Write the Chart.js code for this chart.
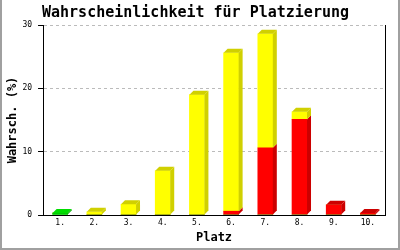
<!DOCTYPE html>
<html>
<head>
<meta charset="utf-8">
<script src="https://cdn.jsdelivr.net/npm/chart.js@4/dist/chart.umd.min.js"></script>
<style>
  body { margin: 0; background: #fff; }
</style>
</head>
<body>
<canvas id="chart" width="400" height="250"></canvas>
<script>
// Platz 1..10, Wahrscheinlichkeit in %
const labels = ['1.', '2.', '3.', '4.', '5.', '6.', '7.', '8.', '9.', '10.'];
const greenVals = [0.3, 0, 0, 0, 0, 0, 0, 0, 0, 0];
const redVals = [0, 0, 0, 0, 0, 0.6, 10.6, 15.1, 1.6, 0.3];
const yellowVals = [0, 0.5, 1.7, 7.0, 19.0, 25.0, 18.0, 1.2, 0, 0];
const yTicks = [0, 10, 20, 30];

const mono = 'DejaVu Sans Mono';

// side + top faces for the fake 3d look
const depth = 4;
const bars3d = {
    id: 'bars3d',
    afterDatasetsDraw(chart) {
        const ctx = chart.ctx;
        const zero = chart.scales.y.getPixelForValue(0);
        const tops = {};
        chart.data.datasets.forEach((ds, i) => {
            ds.data.forEach((v, j) => { if (v) tops[j] = i; });
        });
        ctx.save();
        chart.data.datasets.forEach((ds, i) => {
            const meta = chart.getDatasetMeta(i);
            meta.data.forEach((bar, j) => {
                if (!ds.data[j]) return;
                const p = bar.getProps(['x', 'y', 'base', 'width'], true);
                const l = p.x - p.width / 2, r = p.x + p.width / 2;
                const low = Math.abs(p.base - zero) < 0.5 ? p.base : p.base - depth;
                ctx.fillStyle = ds.shadeColor;
                ctx.beginPath();
                ctx.moveTo(r, p.y);
                ctx.lineTo(r + depth, p.y - depth);
                ctx.lineTo(r + depth, low);
                ctx.lineTo(r, p.base);
                ctx.closePath();
                ctx.fill();
                if (tops[j] === i) {
                    ctx.fillStyle = ds.topColor;
                    ctx.beginPath();
                    ctx.moveTo(l, p.y);
                    ctx.lineTo(l + depth, p.y - depth);
                    ctx.lineTo(r + depth, p.y - depth);
                    ctx.lineTo(r, p.y);
                    ctx.closePath();
                    ctx.fill();
                }
            });
        });
        ctx.restore();
    },
    afterDraw(chart) {
        const ctx = chart.ctx;
        const a = chart.chartArea;
        ctx.save();
        ctx.strokeStyle = '#000';
        ctx.lineWidth = 1;
        ctx.beginPath();
        ctx.moveTo(Math.round(a.right) + 0.5, a.top);
        ctx.lineTo(Math.round(a.right) + 0.5, a.bottom);
        ctx.stroke();
        // grey frame round the picture
        ctx.fillStyle = '#a0a0a0';
        ctx.fillRect(0, 0, 2, 250);
        ctx.fillRect(398, 0, 2, 250);
        ctx.fillRect(0, 248, 400, 2);
        ctx.restore();
    }
};

new Chart(document.getElementById('chart'), {
    type: 'bar',
    data: {
        labels: labels,
        datasets: [
            { label: 'grün', data: greenVals, backgroundColor: '#00cc00', shadeColor: '#00aa00', topColor: '#00dd00', barThickness: 15 },
            { label: 'rot', data: redVals, backgroundColor: '#ff0000', shadeColor: '#cc0000', topColor: '#cc0000', barThickness: 15 },
            { label: 'gelb', data: yellowVals, backgroundColor: '#ffff00', shadeColor: '#d0d000', topColor: '#d0d000', barThickness: 15 }
        ]
    },
    options: {
        responsive: false,
        animation: false,
        devicePixelRatio: 1,
        layout: { padding: { left: 6, right: 15, top: 0, bottom: 5 } },
        plugins: {
            legend: { display: false },
            tooltip: { enabled: false },
            title: {
                display: true,
                text: 'Wahrscheinlichkeit für Platzierung',
                color: '#000',
                font: { family: mono, size: 15, weight: 'bold' },
                padding: { top: 4, bottom: 3 }
            }
        },
        scales: {
            x: {
                stacked: true,
                grid: { display: false, drawTicks: false },
                border: { display: true, color: '#000', width: 1 },
                ticks: { color: '#000', font: { family: mono, size: 8 }, padding: 3 },
                title: {
                    display: true,
                    text: 'Platz',
                    color: '#000',
                    font: { family: mono, size: 12, weight: 'bold' },
                    padding: { top: 0, bottom: 0 }
                }
            },
            y: {
                stacked: true,
                min: 0,
                max: 30,
                afterBuildTicks: (scale) => { scale.ticks = yTicks.map(v => ({ value: v })); },
                grid: {
                    color: (c) => c.tick && c.tick.value === 0 ? 'rgba(0,0,0,0)' : '#bbbbbb',
                    tickColor: '#000',
                    tickLength: 5
                },
                border: { display: true, color: '#000', width: 1, dash: [3, 3] },
                ticks: { color: '#000', font: { family: mono, size: 8 }, padding: 6 },
                title: {
                    display: true,
                    text: 'Wahrsch. (%)',
                    color: '#000',
                    font: { family: mono, size: 12, weight: 'bold' },
                    padding: { top: 0, bottom: -4 }
                }
            }
        }
    },
    plugins: [bars3d]
});
</script>
</body>
</html>
